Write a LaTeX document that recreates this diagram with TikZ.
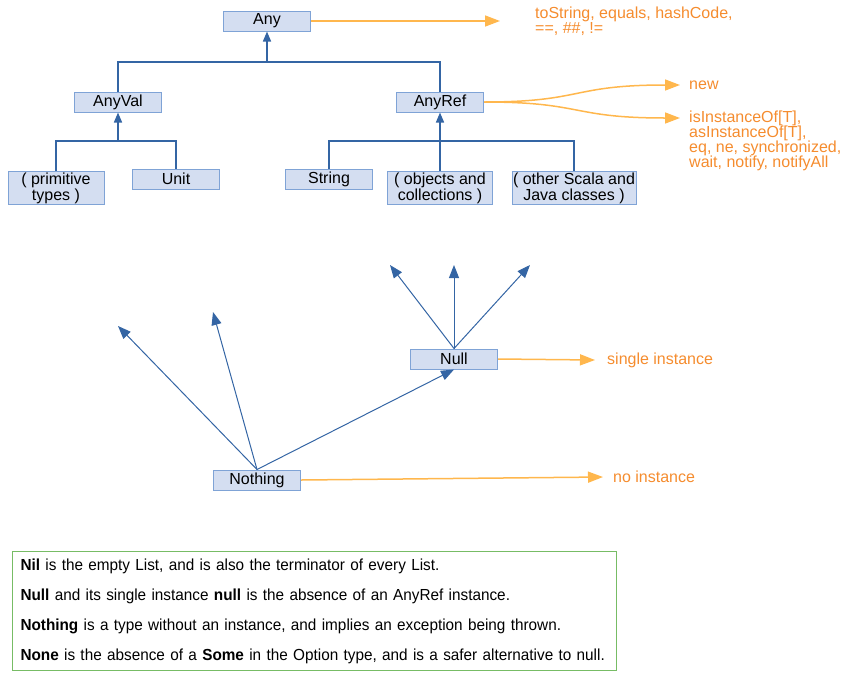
\documentclass[tikz,border=0pt]{standalone}
\usepackage{fontspec}
\setmainfont{Liberation Sans}
\newfontfamily\notefont[FakeStretch=0.957]{Liberation Sans}
\usetikzlibrary{arrows.meta,positioning}
\definecolor{boxfill}{HTML}{D4DEF1}
\definecolor{boxline}{HTML}{7FA3D6}
\definecolor{treeblue}{HTML}{3465A4}
\definecolor{arrorange}{HTML}{FFB74D}
\definecolor{txtorange}{HTML}{F58C2E}
\definecolor{notegreen}{HTML}{77BC65}

\begin{document}
\begin{tikzpicture}[x=1pt,y=-1pt,
  typebox/.style={draw=boxline,fill=boxfill,line width=1pt,minimum width=87pt,minimum height=20pt,
    inner xsep=1pt,inner ysep=1pt,align=center,font=\fontsize{16}{14}\selectfont},
  treeline/.style={draw=treeblue,line width=1.5pt},
  tree/.style={treeline,-{Triangle[length=10pt,width=8pt]}},
  sub/.style={draw=treeblue,line width=1pt,-{Triangle[length=13pt,width=10pt]}},
  meth/.style={draw=arrorange,line width=1.5pt,-{Triangle[length=15pt,width=11pt]}},
  methtext/.style={text=txtorange,font=\fontsize{16}{15}\selectfont,align=left,inner sep=0pt}]
\useasboundingbox (0,0) rectangle (845,678);

% type nodes
\node[typebox] (any) at (267,21){Any};
\node[typebox] (anyval) at (118,102){AnyVal};
\node[typebox] (anyref) at (440,102){AnyRef};
\node[typebox,minimum width=96pt] (prim) at (56,188){( primitive\\types )};
\node[typebox] (unit) at (176,179){Unit};
\node[typebox] (string) at (329,179){String};
\node[typebox,minimum width=105pt] (objects) at (440,188){( objects and\\collections )};
\node[typebox,minimum width=124pt] (other) at (574,188){( other Scala and\\Java classes )};
\node[typebox] (null) at (454,359){Null};
\node[typebox] (nothing) at (257,480){Nothing};

% hierarchy
\coordinate (forkA) at (any |- 0,62);
\coordinate (forkV) at (anyval |- 0,141);
\coordinate (forkR) at (anyref |- 0,141);
\draw[treeline] (anyval.north) |- (forkA) -| (anyref.north);
\draw[tree] (forkA) -- (any.south);
\draw[treeline] (prim.north) |- (forkV) -| (unit.north);
\draw[tree] (forkV) -- (anyval.south);
\draw[treeline] (string.north) |- (forkR) -| (other.north);
\draw[tree] (objects.north) -- (anyref.south);

% bottom types
\coordinate (up1) at (390,265);
\coordinate (up2) at (454,265);
\coordinate (up3) at (530,265);
\coordinate (up4) at (118,326);
\coordinate (up5) at (213,312);
\foreach \t in {up1,up2,up3} \draw[sub] (null.north) -- (\t);
\foreach \t in {up4,up5} \draw[sub] (nothing.north) -- (\t);
\draw[sub] (nothing.north) -- (null.south);

% members
\coordinate (anytip) at (500,21);
\coordinate (newtip) at (680,85);
\coordinate (isatip) at (680,118);
\coordinate (nulltip) at (595,360);
\coordinate (notip) at (603,477);
\node[methtext,anchor=north west] (anymeth) at (535,7){toString, equals, hashCode,\\==, \#\#, !=};
\node[methtext,right=9pt of newtip] (newlbl){new};
\node[methtext,anchor=north west] (reflbl) at (689,111){isInstanceOf[T],\\asInstanceOf[T],\\eq, ne, synchronized,\\wait, notify, notifyAll};
\node[methtext,right=12pt of nulltip] (singlelbl){single instance};
\node[methtext,right=10pt of notip] (nolbl){no instance};
\draw[meth] (any.east) -- (anytip);
\draw[meth] (anyref.east) .. controls +(100,0) and +(-110,0) .. (newtip);
\draw[meth] (anyref.east) .. controls +(100,0) and +(-110,0) .. (isatip);
\draw[meth] (null.east) -- (nulltip);
\draw[meth] (nothing.east) -- (notip);

% notes
\node[draw=notegreen,line width=1pt,anchor=north west,minimum width=604pt,minimum height=119pt,
  text width=588pt,inner xsep=8pt,align=left,font=\notefont\fontsize{16}{30}\selectfont] (notes) at (12,551)
  {\textbf{Nil} is the empty List, and is also the terminator of every List.\\
   \textbf{Null} and its single instance \textbf{null} is the absence of an AnyRef instance.\\
   \textbf{Nothing} is a type without an instance, and implies an exception being thrown.\\
   \textbf{None} is the absence of a \textbf{Some} in the Option type, and is a safer alternative to null.};
\end{tikzpicture}
\end{document}
